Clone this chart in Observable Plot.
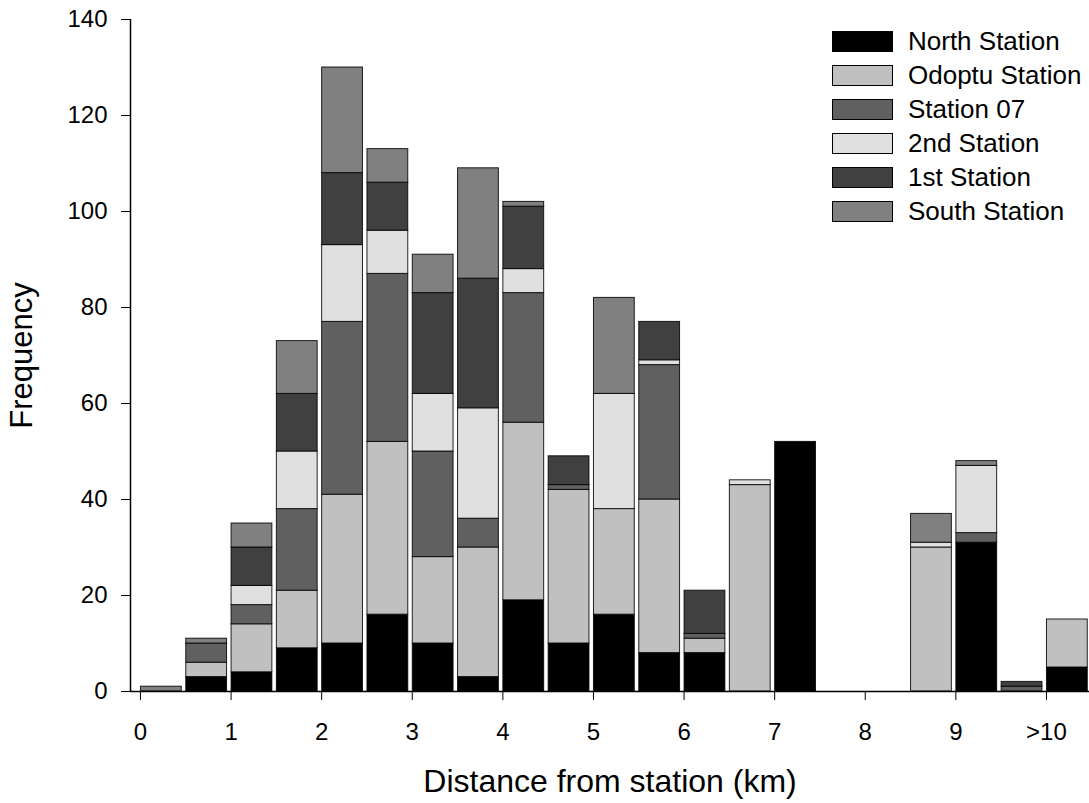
<!DOCTYPE html>
<html>
<head>
<meta charset="utf-8">
<script src="https://cdn.jsdelivr.net/npm/d3@7"></script>
<script src="https://cdn.jsdelivr.net/npm/@observablehq/plot@0.6"></script>
<style>
  html, body { margin: 0; padding: 0; background: #fff; }
  #wrap { position: relative; width: 1089px; height: 803px; font-family: "Liberation Sans", Arial, sans-serif; }
  #wrap svg { display: block; }
  #legend { position: absolute; left: 832px; top: 24px; }
  .row { display: flex; align-items: center; height: 34px; }
  .sw { width: 59px; height: 19px; border: 1px solid #000; box-sizing: content-box; margin-right: 15px; }
  .lab { font-size: 26px; color: #000; white-space: nowrap; line-height: 1; }
</style>
</head>
<body>
<div id="wrap"></div>
<script>
// Bin starts (km); each bin is 0.5 km wide
const bins = [0, 0.5, 1, 1.5, 2, 2.5, 3, 3.5, 4, 4.5, 5, 5.5, 6, 6.5, 7, 7.5, 8, 8.5, 9, 9.5, 10];
const stations = ["North Station", "Odoptu Station", "Station 07", "2nd Station", "1st Station", "South Station"];
const colors = ["#000000", "#c0c0c0", "#606060", "#e0e0e0", "#404040", "#808080"];

const northStation  = [0, 3, 4, 9, 10, 16, 10, 3, 19, 10, 16, 8, 8, 0, 52, 0, 0, 0, 31, 0, 5];
const odoptuStation = [0, 3, 10, 12, 31, 36, 18, 27, 37, 32, 22, 32, 3, 43, 0, 0, 0, 30, 0, 0, 10];
const station07     = [0, 4, 4, 17, 36, 35, 22, 6, 27, 1, 0, 28, 1, 0, 0, 0, 0, 0, 2, 1, 0];
const secondStation = [0, 0, 4, 12, 16, 9, 12, 23, 5, 0, 24, 1, 0, 1, 0, 0, 0, 1, 14, 0, 0];
const firstStation  = [0, 0, 8, 12, 15, 10, 21, 27, 13, 6, 0, 8, 9, 0, 0, 0, 0, 0, 0, 1, 0];
const southStation  = [1, 1, 5, 11, 22, 7, 8, 23, 1, 0, 20, 0, 0, 0, 0, 0, 0, 6, 1, 0, 0];

const xTicks = [0, 1, 2, 3, 4, 5, 6, 7, 8, 9, 10];
const xTickLabels = ["0", "1", "2", "3", "4", "5", "6", "7", "8", "9", ">10"];
const yTicks = [0, 20, 40, 60, 80, 100, 120, 140];
const xTitle = "Distance from station (km)";
const yTitle = "Frequency";

const series = [northStation, odoptuStation, station07, secondStation, firstStation, southStation];

// stack the series per bin (North at the bottom)
const rows = [];
bins.forEach((b, i) => {
  let acc = 0;
  series.forEach((s, k) => {
    const v = s[i];
    if (v > 0) rows.push({x1: b, x2: b + 0.5, y1: acc, y2: acc + v, station: stations[k]});
    acc += v;
  });
});

const xDomain = [-0.11, 10.475];
const yDomain = [0, 140];

const chart = Plot.plot({
  width: 1089,
  height: 803,
  marginLeft: 130,
  marginRight: 0,
  marginTop: 19,
  marginBottom: 112,
  style: {fontFamily: "Liberation Sans, Arial, sans-serif", fontSize: "24px", color: "#000", background: "#fff"},
  x: {domain: xDomain, label: null, ticks: xTicks, tickSize: 9, tickPadding: 22, tickFormat: d => xTickLabels[xTicks.indexOf(d)]},
  y: {domain: yDomain, label: null, ticks: yTicks, tickSize: 9, tickPadding: 14},
  color: {domain: stations, range: colors},
  marks: [
    Plot.rect(rows, {x1: "x1", x2: "x2", y1: "y1", y2: "y2", fill: "station", stroke: "#000", strokeWidth: 1, strokeOpacity: 0.85, insetLeft: 0.5, insetRight: 4}),
    Plot.ruleY([yDomain[0]], {stroke: "#000", strokeWidth: 1.5}),
    Plot.ruleX([xDomain[0]], {y1: yDomain[0], y2: yDomain[1], stroke: "#000", strokeWidth: 1.5}),
    Plot.text([xTitle], {frameAnchor: "bottom", dy: 90, lineAnchor: "middle", textAnchor: "middle", fontSize: 32, fill: "#000"}),
    Plot.text([yTitle], {frameAnchor: "left", dx: -108, rotate: -90, lineAnchor: "middle", textAnchor: "middle", fontSize: 31, fill: "#000"})
  ]
});

const wrap = document.getElementById("wrap");
wrap.appendChild(chart);

const legend = document.createElement("div");
legend.id = "legend";
stations.forEach((s, k) => {
  const row = document.createElement("div");
  row.className = "row";
  const sw = document.createElement("div");
  sw.className = "sw";
  sw.style.background = colors[k];
  const lab = document.createElement("div");
  lab.className = "lab";
  lab.textContent = s;
  row.appendChild(sw);
  row.appendChild(lab);
  legend.appendChild(row);
});
wrap.appendChild(legend);
</script>
</body>
</html>
